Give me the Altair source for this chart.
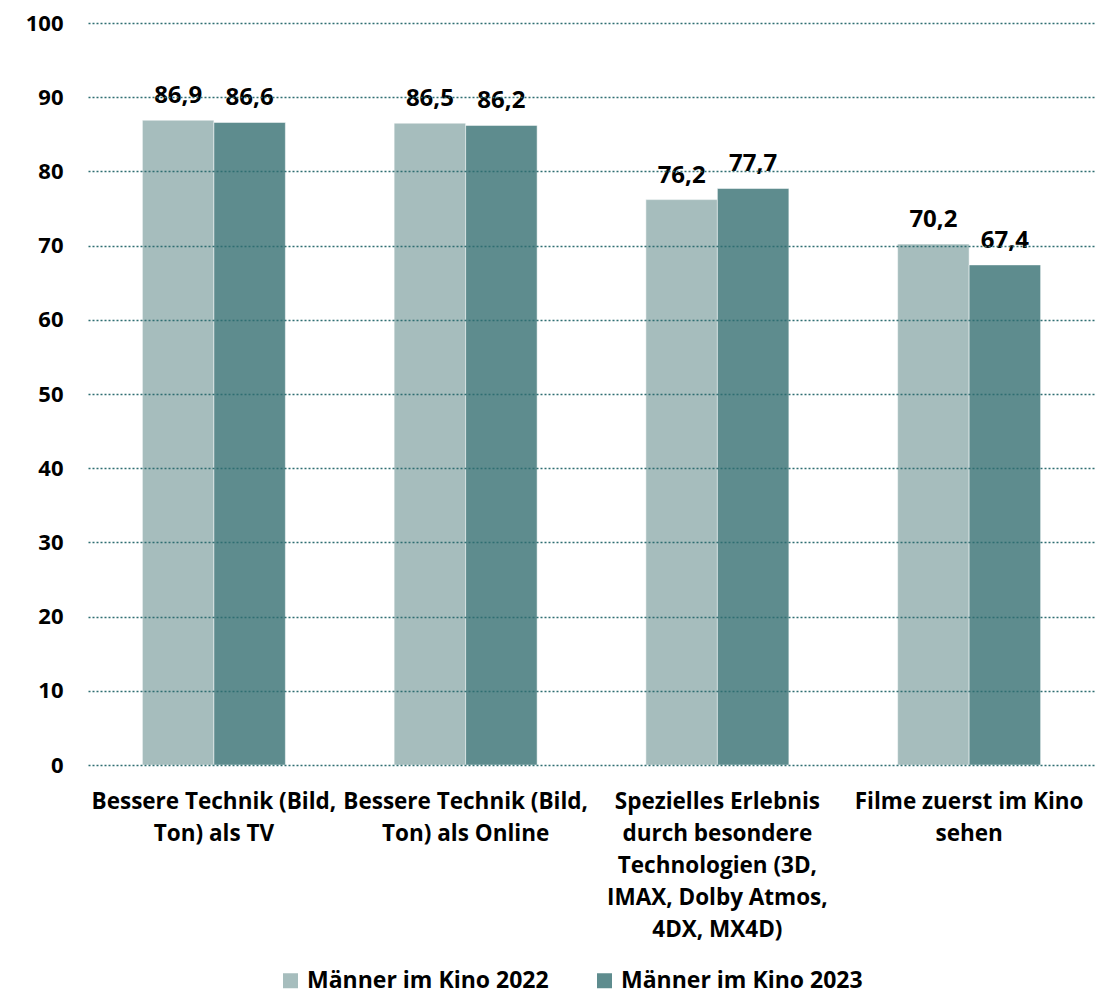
import altair as alt
import pandas as pd

categories = [
    "Bessere Technik (Bild,\nTon) als TV",
    "Bessere Technik (Bild,\nTon) als Online",
    "Spezielles Erlebnis\ndurch besondere\nTechnologien (3D,\nIMAX, Dolby Atmos,\n4DX, MX4D)",
    "Filme zuerst im Kino\nsehen",
]
series = ["Männer im Kino 2022", "Männer im Kino 2023"]
values_2022 = [86.9, 86.5, 76.2, 70.2]
values_2023 = [86.6, 86.2, 77.7, 67.4]
colors = ["#a6bdbd", "#5e8c8e"]
y_ticks = [0, 10, 20, 30, 40, 50, 60, 70, 80, 90, 100]

rows = []
for c, v in zip(categories, values_2022):
    rows.append({"cat": c, "series": series[0], "value": v})
for c, v in zip(categories, values_2023):
    rows.append({"cat": c, "series": series[1], "value": v})
df = pd.DataFrame(rows)
df["label"] = df["value"].map(lambda v: f"{v:.1f}".replace(".", ","))

FONT = "Open Sans"

x = alt.X(
    "cat:N",
    sort=categories,
    title=None,
    scale=alt.Scale(paddingInner=0.432, paddingOuter=0.216),
    axis=alt.Axis(
        labelExpr="split(datum.label, '\\n')",
        labelAngle=0,
        labelFont=FONT,
        labelFontWeight="bold",
        labelFontSize=22.5,
        labelColor="#000000",
        labelLineHeight=32,
        labelPadding=25,
        labelLimit=400,
        labelBaseline="top",
        domain=False,
        ticks=False,
        grid=False,
    ),
)
xoff = alt.XOffset("series:N", sort=series, scale=alt.Scale(paddingInner=0, paddingOuter=0))
y = alt.Y(
    "value:Q",
    title=None,
    scale=alt.Scale(domain=[0, 100], nice=False),
    axis=alt.Axis(
        values=y_ticks,
        labelFont=FONT,
        labelFontWeight="bold",
        labelFontSize=22,
        labelColor="#000000",
        labelPadding=25,
        domain=False,
        ticks=False,
        grid=True,
        gridColor="#2f6e72",
        gridDash=[2, 2],
        gridWidth=1.5,
        zindex=1,
    ),
)
color = alt.Color(
    "series:N",
    sort=series,
    scale=alt.Scale(domain=series, range=colors),
    legend=alt.Legend(
        title=None,
        orient="none",
        direction="horizontal",
        legendX=191,
        legendY=946,
        symbolType="square",
        symbolSize=225,
        symbolStrokeWidth=0,
        symbolOpacity=1,
        labelFont=FONT,
        labelFontWeight="bold",
        labelFontSize=23,
        labelColor="#000000",
        labelOffset=5,
        columnPadding=44,
        labelLimit=400,
        padding=0,
    ),
)

bars = alt.Chart(df).mark_bar(stroke="white", strokeWidth=0.5).encode(
    x=x, xOffset=xoff, y=y, color=color
)
texts = alt.Chart(df).mark_text(
    font=FONT, fontWeight="bold", fontSize=24, color="#000000",
    baseline="alphabetic", dy=-17,
).encode(
    x=alt.X("cat:N", sort=categories),
    xOffset=alt.XOffset("series:N", sort=series),
    y=alt.Y("value:Q"),
    text="label:N",
)

chart = (
    alt.layer(bars, texts)
    .properties(
        width=1007,
        height=742,
        background="white",
        autosize=alt.AutoSizeParams(type="none"),
        padding={"left": 80, "top": 15, "right": 2, "bottom": 231},
    )
    .configure_view(strokeWidth=0, stroke=None)
)

chart.save("out.html", embed_options={"renderer": "svg", "actions": False})
